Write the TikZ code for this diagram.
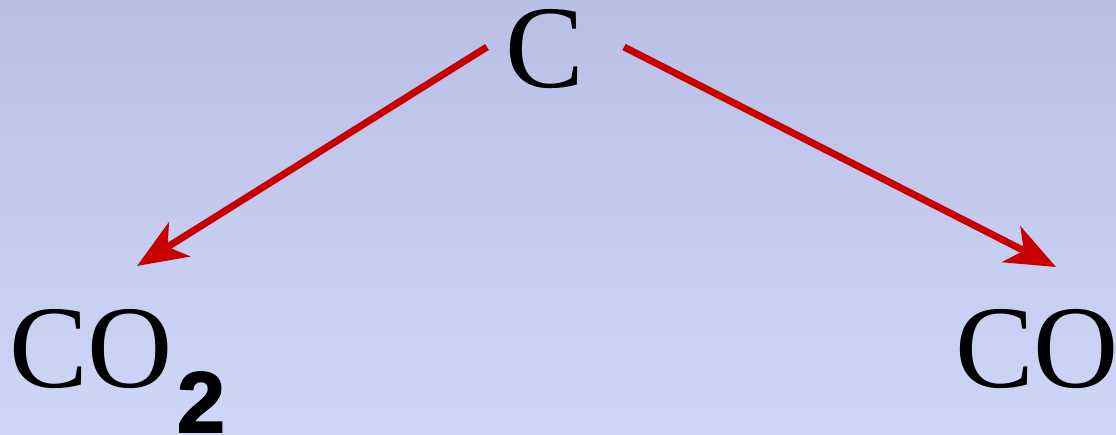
\documentclass[tikz,border=0pt]{standalone}
\usepackage{fontspec}
\setmainfont{Liberation Serif}
\newfontfamily\subsans[BoldFeatures={FakeBold=2}]{Liberation Sans}
\usetikzlibrary{arrows.meta}
\definecolor{bgtop}{RGB}{185,191,229}
\definecolor{bgbot}{RGB}{206,215,248}
\definecolor{arr}{RGB}{200,0,0}
\tikzset{
  chem/.style={font=\fontsize{118}{118}\selectfont, inner sep=0pt, text=black},
  rxn/.style={draw=arr, line width=7pt, -{Stealth[length=50pt,width=40pt,inset=14pt]}},
}
\begin{document}
\begin{tikzpicture}[x=1pt,y=-1pt]
\shade[top color=bgtop, bottom color=bgbot] (0,0) rectangle (1116,435);
\useasboundingbox (0,0) rectangle (1116,435);
\node[chem, anchor=base] (C) at (545,88) {C};
\node[chem, anchor=base west] (CO2) at (9,388) {CO\raisebox{-44pt}{\hspace{4pt}\subsans\bfseries\fontsize{86}{86}\selectfont 2}};
\node[chem, anchor=base west] (CO) at (955,388) {CO};
\coordinate (s1) at (487,47);
\coordinate (e1) at (137,266);
\coordinate (s2) at (624,47);
\coordinate (e2) at (1056,267);
\draw[rxn] (s1) -- (e1);
\draw[rxn] (s2) -- (e2);
\end{tikzpicture}
\end{document}
